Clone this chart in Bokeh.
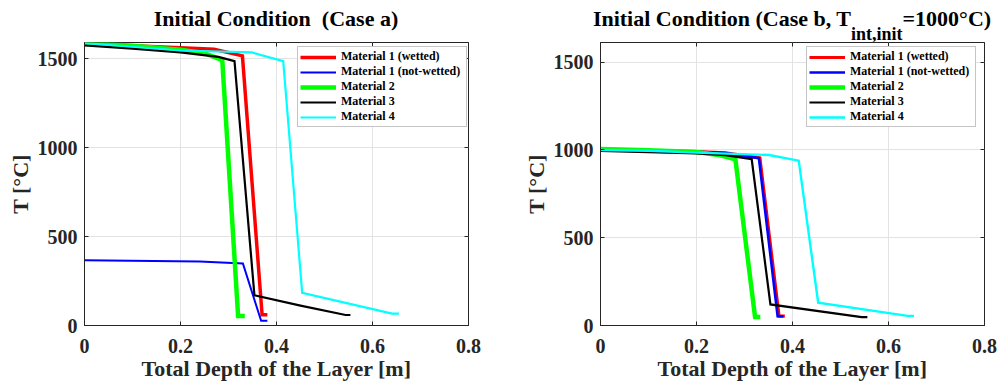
from bokeh.plotting import figure
from bokeh.layouts import row, column
from bokeh.models import (Range1d, FixedTicker, LinearAxis, Legend, LegendItem,
                          CustomJSTickFormatter, Div)
from bokeh.embed import file_html
from bokeh.resources import INLINE

FONT = "Liberation Serif"
AXC = "#262626"

series_names = ["Material 1 (wetted)", "Material 1 (not-wetted)",
                "Material 2", "Material 3", "Material 4"]
series_colors = ["#ff0000", "#0000ff", "#00ff00", "#000000", "#00ffff"]
x_ticks = [0, 0.2, 0.4, 0.6, 0.8]
y_ticks = [0, 500, 1000, 1500]

# ---- Case a ----
a_x_m1w = [0, 0.1, 0.2, 0.27, 0.329, 0.370, 0.381]
a_T_m1w = [1582, 1572, 1560, 1552, 1515, 60, 60]
a_x_m1n = [0, 0.24, 0.33, 0.368, 0.381]
a_T_m1n = [367, 360, 348, 26, 26]
a_x_m2 = [0, 0.1, 0.2, 0.25, 0.287, 0.320, 0.334]
a_T_m2 = [1588, 1572, 1550, 1530, 1491, 54, 54]
a_x_m3 = [0, 0.1, 0.2, 0.279, 0.3125, 0.354, 0.45, 0.544, 0.554]
a_T_m3 = [1574, 1556, 1535, 1509, 1485, 170, 112, 59, 59]
a_x_m4 = [0, 0.1, 0.2, 0.349, 0.414, 0.4535, 0.641, 0.655]
a_T_m4 = [1586, 1566, 1545, 1534, 1485, 184, 67, 67]

# ---- Case b ----
b_x_m1w = [0, 0.1, 0.2, 0.26, 0.332, 0.372, 0.384]
b_T_m1w = [1000, 996, 990, 983, 955, 53, 53]
b_x_m1n = [0, 0.1, 0.2, 0.26, 0.330, 0.369, 0.381]
b_T_m1n = [1000, 995, 989, 982, 953, 53, 53]
b_x_m2 = [0, 0.1, 0.2, 0.25, 0.281, 0.322, 0.333]
b_T_m2 = [1005, 998, 988, 970, 947, 48, 48]
b_x_m3 = [0, 0.1, 0.2, 0.26, 0.315, 0.354, 0.544, 0.556]
b_T_m3 = [995, 988, 980, 970, 947, 120, 48, 48]
b_x_m4 = [0, 0.1, 0.2, 0.351, 0.413, 0.4535, 0.64, 0.653]
b_T_m4 = [1000, 995, 985, 971, 939, 130, 55, 55]

a_series = [(a_x_m1w, a_T_m1w), (a_x_m1n, a_T_m1n), (a_x_m2, a_T_m2),
            (a_x_m3, a_T_m3), (a_x_m4, a_T_m4)]
b_series = [(b_x_m1w, b_T_m1w), (b_x_m1n, b_T_m1n), (b_x_m2, b_T_m2),
            (b_x_m3, b_T_m3), (b_x_m4, b_T_m4)]
a_widths = [3.5, 2, 4.5, 2.2, 2.2]
b_widths = [3.2, 2.6, 4.5, 2.2, 2.4]

title_a = "Initial Condition&nbsp; (Case a)"
title_b_main = "Initial Condition (Case b, T"
title_b_sub = "int,init"
title_b_tail = "=1000°C)"

FRAME_W, FRAME_H = 384, 283
TITLE_H = 41


def make_fig(series, widths, ymax, mbl, mbr, legend_xy):
    p = figure(frame_width=FRAME_W, frame_height=FRAME_H,
               x_range=Range1d(0, 0.8), y_range=Range1d(0, ymax),
               output_backend="svg", toolbar_location=None,
               min_border_left=mbl, min_border_right=mbr,
               min_border_top=1, min_border_bottom=59,
               background_fill_color="white", border_fill_color="white",
               outline_line_color=AXC, outline_line_width=1)
    p.xaxis.ticker = FixedTicker(ticks=x_ticks)
    p.yaxis.ticker = FixedTicker(ticks=y_ticks)
    p.xaxis.formatter = CustomJSTickFormatter(code="return (Math.round(tick*10)/10).toString()")
    p.xgrid.ticker = FixedTicker(ticks=x_ticks)
    p.ygrid.ticker = FixedTicker(ticks=y_ticks)
    p.grid.grid_line_color = "#e3e3e3"
    p.grid.grid_line_width = 1
    for ax in (p.xaxis[0], p.yaxis[0]):
        ax.axis_line_color = AXC
        ax.major_tick_line_color = AXC
        ax.major_tick_in = 4
        ax.major_tick_out = 0
        ax.minor_tick_line_color = None
        ax.major_label_text_font = FONT
        ax.major_label_text_font_style = "bold"
        ax.major_label_text_font_size = "20px"
        ax.major_label_text_color = AXC
        ax.axis_label_text_font = FONT
        ax.axis_label_text_font_style = "bold"
        ax.axis_label_text_font_size = "22px"
        ax.axis_label_text_color = AXC
    p.xaxis.axis_label = "Total Depth of the Layer [m]"
    p.yaxis.axis_label = "T [°C]"
    p.xaxis.major_label_standoff = 13
    p.xaxis.axis_label_standoff = 0
    p.yaxis.major_label_standoff = 7
    p.yaxis.axis_label_standoff = 2

    # box ticks on top and right (no labels)
    for loc in ("above", "right"):
        ax = LinearAxis(ticker=FixedTicker(ticks=x_ticks if loc == "above" else y_ticks),
                        formatter=CustomJSTickFormatter(code="return ''"))
        ax.axis_line_color = None
        ax.major_tick_line_color = AXC
        ax.major_tick_in = 4
        ax.major_tick_out = 0
        ax.minor_tick_line_color = None
        ax.major_label_text_font_size = "1px"
        ax.major_label_standoff = 0
        p.add_layout(ax, loc)

    items = []
    for (xs, ts), name, col, w in zip(series, series_names, series_colors, widths):
        r = p.line(xs, ts, line_color=col, line_width=w, line_join="miter")
        items.append(LegendItem(label=name, renderers=[r]))
    leg = Legend(items=items, location=legend_xy)
    leg.label_text_font = FONT
    leg.label_text_font_style = "bold"
    leg.label_text_font_size = "12px"
    leg.label_text_color = "black"
    leg.border_line_color = "#8c8c8c"
    leg.border_line_width = 1
    leg.background_fill_color = "white"
    leg.background_fill_alpha = 1
    leg.padding = 2
    leg.spacing = 0
    leg.margin = 0
    leg.label_height = 14
    leg.glyph_height = 14
    leg.glyph_width = 36
    leg.label_width = 123
    leg.label_standoff = 5
    p.add_layout(leg)
    return p


MBL1, MBR1, MBL2, MBR2 = 84, 48, 84, 15
p1 = make_fig(a_series, a_widths, 1590, MBL1, MBR1, (213, 198))
p2 = make_fig(b_series, b_widths, 1612, MBL2, MBR2, (206, 198))
W1 = MBL1 + FRAME_W + MBR1
W2 = MBL2 + FRAME_W + MBR2

base_style = ("font-family:'Liberation Serif';font-weight:bold;font-size:22px;"
              "line-height:22px;color:#000;white-space:nowrap;text-align:center;"
              "padding-top:8px;")
d1 = Div(width=W1, height=TITLE_H, margin=0,
         text=f"<div style=\"{base_style}margin-left:{MBL1 - 20}px;width:{FRAME_W + 40}px\">"
              f"{title_a}</div>")
d2 = Div(width=W2, height=TITLE_H, margin=0,
         text=f"<div style=\"{base_style}margin-left:{MBL2 - 20}px;width:{FRAME_W + 40}px\">"
              f"{title_b_main}<span style=\"font-size:18px;line-height:0;vertical-align:-14px\">"
              f"{title_b_sub}</span>{title_b_tail}</div>")

layout = column(row(d1, d2, spacing=0), row(p1, p2, spacing=0), spacing=0)
open("out.html", "w").write(file_html(layout, INLINE))
